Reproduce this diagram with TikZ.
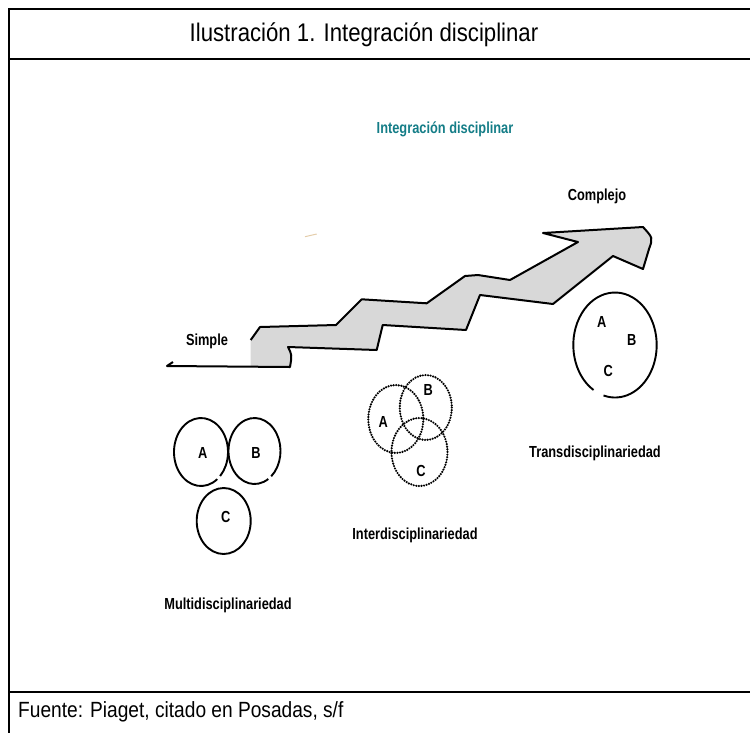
\documentclass[tikz,border=0pt]{standalone}
\usepackage{fontspec}
\setmainfont{Liberation Sans}
\newfontfamily\narrowfont[FakeStretch=0.87]{Liberation Sans}
\newfontfamily\labelfont[FakeStretch=0.8]{Liberation Sans}
\definecolor{tealtxt}{RGB}{20,125,135}
\definecolor{stairgray}{RGB}{216,216,216}
\definecolor{faintmark}{RGB}{228,205,170}
\begin{document}
\begin{tikzpicture}[x=1pt,y=-1pt,
  frame/.style={line width=2.5pt},
  lbl/.style={font=\labelfont\bfseries\fontsize{16}{18}\selectfont, inner sep=0pt},
  circ/.style={line width=1.9pt},
  stairline/.style={line width=2pt, line join=round},
  dotcirc/.style={line width=2.4pt, dash pattern=on 0pt off 2.6pt, line cap=round}]
\useasboundingbox (0,0) rectangle (750,732);
% frame
\draw[frame] (9,733) -- (9,9) -- (751,9);
\draw[frame] (9,59) -- (751,59);
\draw[frame] (9,692) -- (751,692);
\node[font=\narrowfont\fontsize{25.5}{28}\selectfont] (title) at (364,35) {Ilustración 1. Integración disciplinar};
\node[anchor=west, inner sep=0pt, font=\narrowfont\fontsize{22}{26}\selectfont] (src) at (18,712) {Fuente: Piaget, citado en Posadas, s/f};
% stair arrow
\fill[stairgray] (250.7,366) -- (250.7,340) -- (260,327) -- (336,325) -- (361.7,299.3) -- (426.7,303.3) -- (465,276) -- (478,275) -- (510,280) -- (578,242) -- (543,233) -- (643,227) .. controls (653,238) .. (649,249) -- (643,269) -- (613,256) -- (553,304) -- (480,295) -- (466,330) -- (382.7,325) -- (376.7,350) -- (288,347) .. controls (292,355) .. (290,367) -- cycle;
\draw[stairline] (250.7,340) -- (260,327) -- (336,325) -- (361.7,299.3) -- (426.7,303.3) -- (465,276) -- (478,275) -- (510,280) -- (578,242) -- (543,233) -- (643,227) .. controls (653,238) .. (649,249) -- (643,269) -- (613,256) -- (553,304) -- (480,295) -- (466,330) -- (382.7,325) -- (376.7,350) -- (288,347) .. controls (292,355) .. (290,367) -- (167,366) -- (173,362);
\draw[line width=1pt, faintmark] (305,236.7) -- (316.7,234);
% labels
\node[lbl, text=tealtxt] (integ) at (445,129) {Integración disciplinar};
\node[lbl] (complejo) at (597,196) {Complejo};
\node[lbl] (simple) at (207,341) {Simple};
\node[lbl] (multi) at (228,605) {Multidisciplinariedad};
\node[lbl] (inter) at (415,535) {Interdisciplinariedad};
\node[lbl] (trans) at (595,453) {Transdisciplinariedad};
% multidisciplinariedad
\draw[circ] (201,452) ++(53:27 and 34) arc[start angle=53, end angle=405, x radius=27, y radius=34];
\draw[circ] (254.5,451) ++(58:26 and 33) arc[start angle=58, end angle=410, x radius=26, y radius=33];
\draw[circ] (223.7,521) ellipse [x radius=27, y radius=33];
\node[lbl] (mA) at (202.7,453) {A};
\node[lbl] (mB) at (256,453) {B};
\node[lbl] (mC) at (225.7,517) {C};
% interdisciplinariedad
\draw[dotcirc] (395.8,419) ellipse [x radius=27.5, y radius=34];
\draw[dotcirc] (425.8,407.5) ellipse [x radius=26, y radius=32.5];
\draw[dotcirc] (419.5,452) ellipse [x radius=28, y radius=34];
\node[lbl] (iA) at (383.3,421.7) {A};
\node[lbl] (iB) at (428.3,390) {B};
\node[lbl] (iC) at (421,470.7) {C};
% transdisciplinariedad
\draw[circ] (615,345) ++(121:41.7 and 52.5) arc[start angle=121, end angle=466, x radius=41.7, y radius=52.5];
\node[lbl] (tA) at (601.7,321.7) {A};
\node[lbl] (tB) at (631.7,340) {B};
\node[lbl] (tC) at (608.3,371) {C};
\end{tikzpicture}
\end{document}
